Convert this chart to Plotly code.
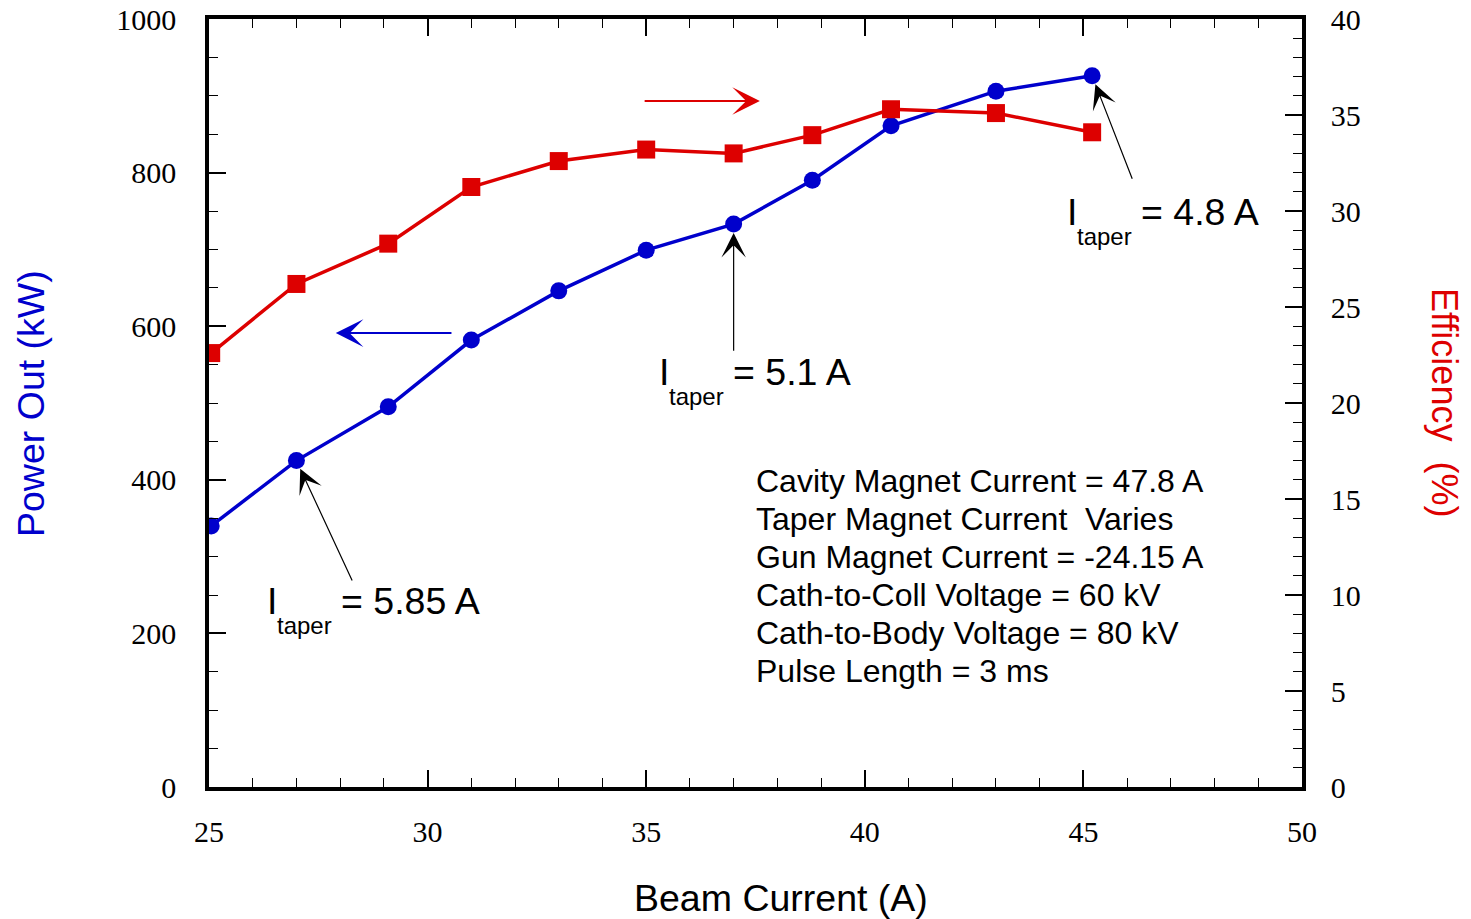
import plotly.graph_objects as go

# ---- data ----
beam_current = [25.05, 27.0, 29.1, 31.0, 33.0, 35.0, 37.0, 38.8, 40.6, 43.0, 45.2]
power_kw = [340, 425, 495, 582, 646, 699, 733, 790, 861, 906, 926]
efficiency = [22.6, 26.2, 28.3, 31.25, 32.6, 33.2, 33.0, 33.95, 35.3, 35.1, 34.1]

x_ticks = [25, 30, 35, 40, 45, 50]
y_ticks = [0, 200, 400, 600, 800, 1000]
y2_ticks = [0, 5, 10, 15, 20, 25, 30, 35, 40]

taper_values = ["5.85", "5.1", "4.8"]
taper_point_index = [1, 6, 10]

info_lines = [
    "Cavity Magnet Current = 47.8 A",
    "Taper Magnet Current \u00a0Varies",
    "Gun Magnet Current = -24.15 A",
    "Cath-to-Coll Voltage = 60 kV",
    "Cath-to-Body Voltage = 80 kV",
    "Pulse Length = 3 ms",
]

BLUE = "#0000cc"
RED = "#dd0000"
W, H = 1471, 919
ML, MR, MT, MB = 209, 169, 19, 132
PW, PH = W - ML - MR, H - MT - MB

SANS = "Liberation Sans, Arial, sans-serif"
SERIF = "Liberation Serif, Times New Roman, serif"


def px(xp):
    return (xp - ML) / PW


def py(yp):
    return (H - MB - yp) / PH


fig = go.Figure()
fig.add_trace(go.Scatter(
    x=beam_current, y=efficiency, yaxis="y2", mode="lines+markers",
    line=dict(color=RED, width=3.5),
    marker=dict(symbol="square", size=18, color=RED),
    showlegend=False))
fig.add_trace(go.Scatter(
    x=beam_current, y=power_kw, mode="lines+markers",
    line=dict(color=BLUE, width=3.5),
    marker=dict(symbol="circle", size=17, color=BLUE),
    showlegend=False))

ann = []

# direction arrows (which axis each curve belongs to)
ann.append(dict(x=27.9, y=591, ax=30.58, ay=591, xref="x", yref="y",
                axref="x", ayref="y", text="", showarrow=True,
                arrowhead=3, arrowsize=2.3, arrowwidth=2,
                arrowcolor=BLUE))
ann.append(dict(x=37.6, y=35.73 * 25, ax=34.93, ay=35.73 * 25, xref="x", yref="y",
                axref="x", ayref="y", text="", showarrow=True,
                arrowhead=3, arrowsize=2.3, arrowwidth=2,
                arrowcolor=RED))

# pointer arrows to the taper points
tails = [(28.29, 267), (37.0, 566), (46.13, 790)]
for idx, (tx, ty) in zip(taper_point_index, tails):
    ann.append(dict(x=beam_current[idx], y=power_kw[idx], ax=tx, ay=ty,
                    xref="x", yref="y", axref="x", ayref="y", text="",
                    showarrow=True, arrowhead=3, arrowsize=3.4,
                    arrowwidth=1.2, arrowcolor="black", standoff=9))

# I_taper labels: (left px of "I", baseline px)
FS = 37.5
label_pos = [(265, 614), (657, 385), (1065, 225)]
for val, (lx, base) in zip(taper_values, label_pos):
    ann.append(dict(x=px(lx), y=py(base - 0.3465 * FS), xref="paper", yref="paper",
                    text="I", showarrow=False, xanchor="left", yanchor="middle",
                    font=dict(family=SANS, size=FS, color="black")))
    ann.append(dict(x=px(lx + 10), y=py(base + 19.5 - 0.3465 * 24), xref="paper",
                    yref="paper", text="taper", showarrow=False, xanchor="left",
                    yanchor="middle", font=dict(family=SANS, size=24, color="black")))
    ann.append(dict(x=px(lx + 74), y=py(base - 0.3465 * FS), xref="paper", yref="paper",
                    text="= " + val + " A", showarrow=False, xanchor="left",
                    yanchor="middle", font=dict(family=SANS, size=FS, color="black")))

# info text block
for i, line in enumerate(info_lines):
    base = 492 + 38 * i
    ann.append(dict(x=px(754), y=py(base - 0.3465 * 32), xref="paper", yref="paper",
                    text=line, showarrow=False, xanchor="left", yanchor="middle",
                    font=dict(family=SANS, size=32, color="black")))

# axis titles
ann.append(dict(x=px(781), y=py(898), xref="paper", yref="paper",
                text="Beam Current (A)", showarrow=False, xanchor="center",
                yanchor="middle", font=dict(family=SANS, size=FS, color="black")))
ann.append(dict(x=px(31), y=py(404), xref="paper", yref="paper",
                text="Power Out (kW)", showarrow=False, xanchor="center",
                yanchor="middle", textangle=-90,
                font=dict(family=SANS, size=FS, color=BLUE)))
ann.append(dict(x=px(1445), y=py(402), xref="paper", yref="paper",
                text="Efficiency \u00a0(%)", showarrow=False, xanchor="center",
                yanchor="middle", textangle=90,
                font=dict(family=SANS, size=36, color=RED)))

fig.update_layout(
    width=W, height=H,
    margin=dict(l=ML, r=MR, t=MT, b=MB, pad=0, autoexpand=False),
    paper_bgcolor="white", plot_bgcolor="white",
    annotations=ann,
    xaxis=dict(range=[25, 50], tickvals=x_ticks, ticks="inside", ticklen=17,
               tickwidth=1.5, tickcolor="black", showline=True, linewidth=3.5,
               linecolor="black", mirror="ticks", showgrid=False, zeroline=False,
               automargin=False,
               tickfont=dict(family=SERIF, size=30, color="black"),
               ticklabelstandoff=15,
               minor=dict(dtick=1, ticks="inside", ticklen=9, tickwidth=1.3,
                          tickcolor="black", showgrid=False)),
    yaxis=dict(range=[0, 1000], tickvals=y_ticks, ticks="inside", ticklen=17,
               tickwidth=1.5, tickcolor="black", showline=True, linewidth=3.5,
               linecolor="black", showgrid=False, zeroline=False,
               automargin=False,
               tickfont=dict(family=SERIF, size=30, color="black"),
               ticklabelstandoff=23,
               minor=dict(dtick=50, ticks="inside", ticklen=9, tickwidth=1.3,
                          tickcolor="black", showgrid=False)),
    yaxis2=dict(range=[0, 40], tickvals=y2_ticks, overlaying="y", side="right",
                ticks="inside", ticklen=17, tickwidth=1.5, tickcolor="black",
                showline=True, linewidth=3.5, linecolor="black", showgrid=False,
                zeroline=False, automargin=False,
                tickfont=dict(family=SERIF, size=30, color="black"),
                ticklabelstandoff=19,
                minor=dict(dtick=1, ticks="inside", ticklen=9, tickwidth=1.3,
                           tickcolor="black", showgrid=False)),
)

fig.write_html("out.html")
